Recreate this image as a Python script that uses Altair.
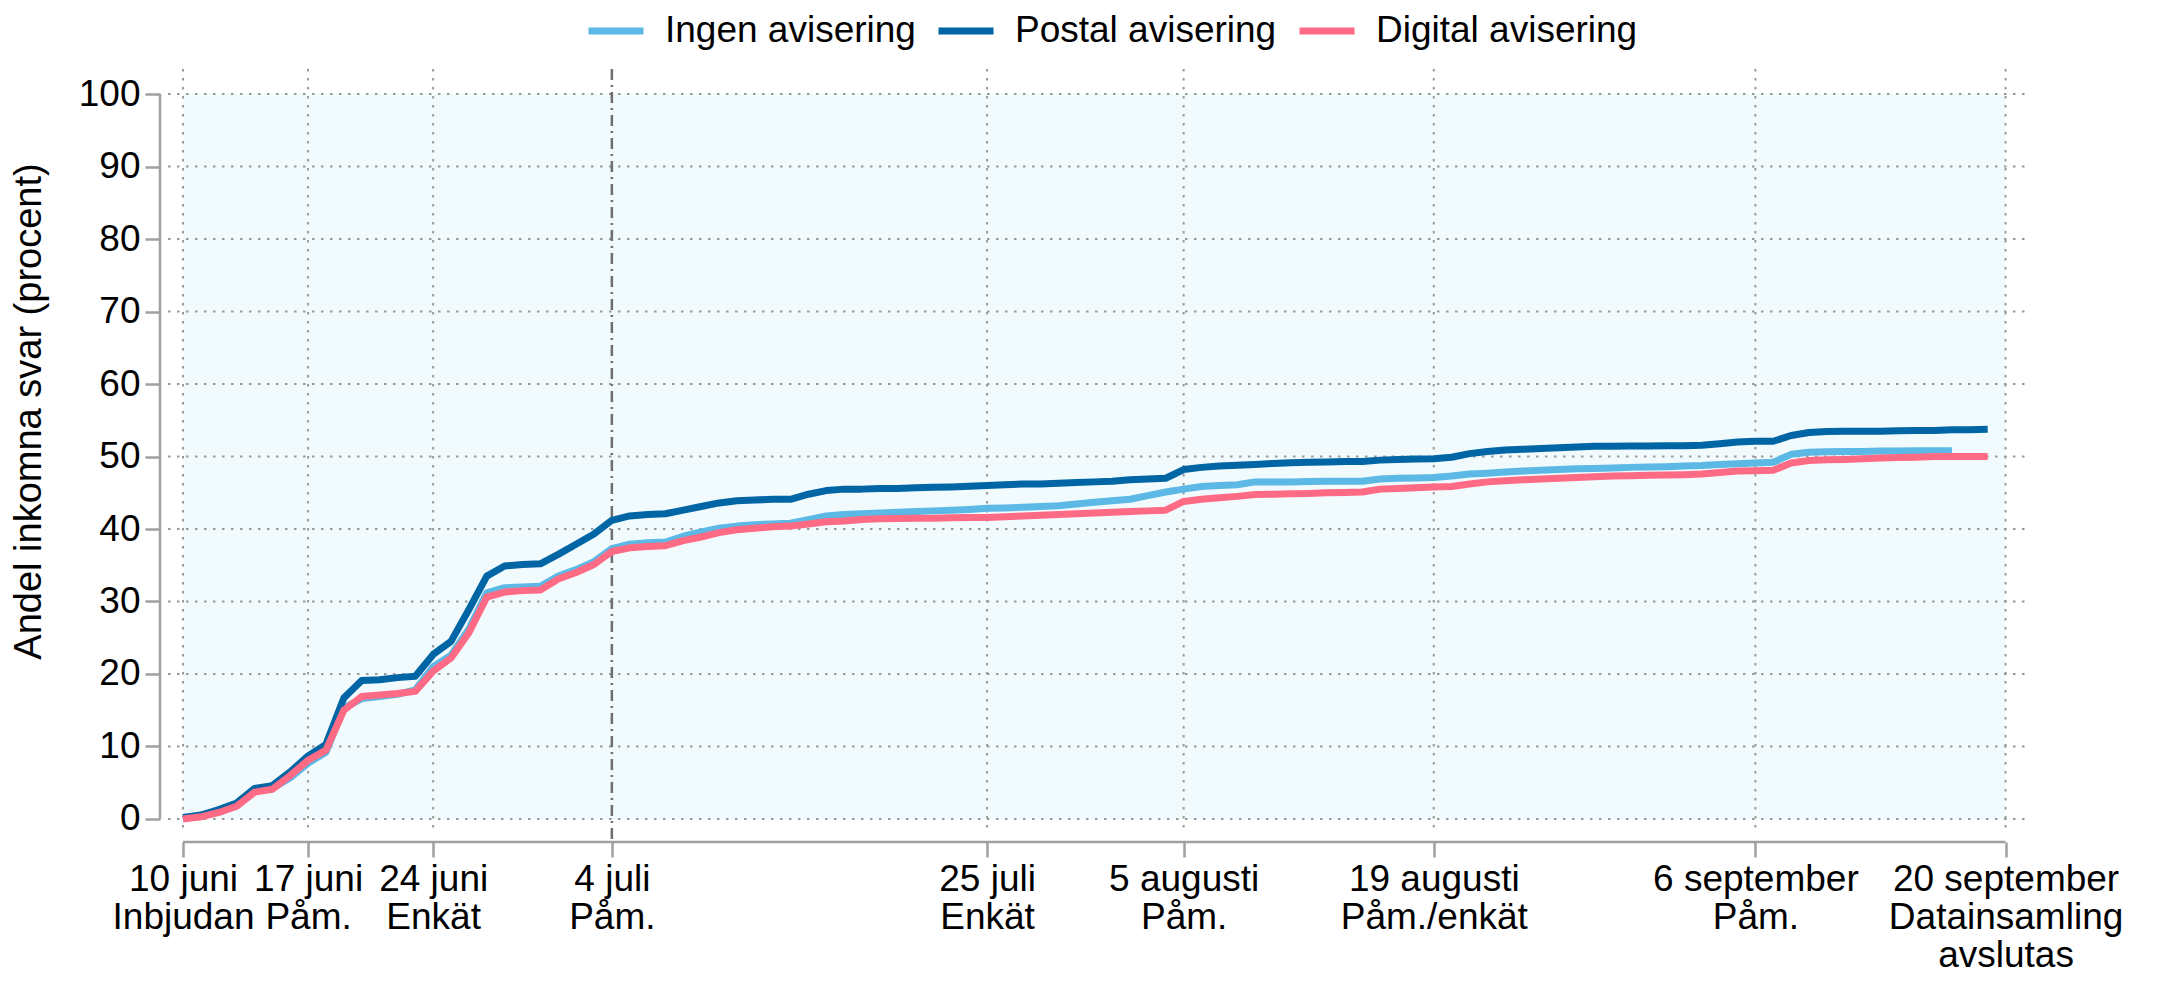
import json
import altair as alt
import pandas as pd

# ---------------- data ----------------
series_names = ["Ingen avisering", "Postal avisering", "Digital avisering"]
series_colors = ["#5CB8E5", "#0065A4", "#FF6A85"]

# cumulative share of responses (percent), one value per day from 10 juni
ingen = [0.1, 0.35, 0.95, 1.8, 3.8, 4.2, 5.7, 7.7, 9.2, 15.3,
         16.6, 16.9, 17.2, 17.8, 21.0, 22.6, 26.2, 31.2, 31.9, 32.0,
         32.1, 33.5, 34.4, 35.5, 37.3, 37.9, 38.1, 38.2, 39.0, 39.6,
         40.1, 40.4, 40.6, 40.7, 40.8, 41.3, 41.8, 42.0, 42.1, 42.2,
         42.3, 42.4, 42.5, 42.6, 42.7, 42.85, 42.9, 43.0, 43.1, 43.2,
         43.45, 43.7, 43.9, 44.1, 44.6, 45.1, 45.5, 45.85, 46.0, 46.1,
         46.5, 46.5, 46.5, 46.55, 46.6, 46.6, 46.6, 46.9, 47.0, 47.05,
         47.1, 47.3, 47.6, 47.7, 47.85, 48.0, 48.1, 48.2, 48.3, 48.35,
         48.4, 48.5, 48.55, 48.6, 48.7, 48.75, 48.9, 49.0, 49.1, 49.2,
         50.3, 50.6, 50.65, 50.7, 50.7, 50.75, 50.75, 50.8, 50.8, 50.8]

postal = [0.2, 0.55, 1.3, 2.2, 4.2, 4.6, 6.5, 8.7, 10.3, 16.7,
          19.1, 19.2, 19.5, 19.7, 22.7, 24.5, 28.9, 33.5, 34.9, 35.1,
          35.2, 36.5, 37.9, 39.3, 41.2, 41.8, 42.0, 42.1, 42.6, 43.1,
          43.6, 43.9, 44.0, 44.1, 44.1, 44.8, 45.3, 45.5, 45.5, 45.6,
          45.6, 45.7, 45.75, 45.8, 45.9, 46.0, 46.1, 46.2, 46.2, 46.3,
          46.4, 46.5, 46.6, 46.8, 46.9, 47.0, 48.2, 48.5, 48.7, 48.8,
          48.9, 49.05, 49.15, 49.2, 49.25, 49.3, 49.3, 49.5, 49.6, 49.65,
          49.7, 49.9, 50.4, 50.7, 50.9, 51.0, 51.1, 51.2, 51.3, 51.4,
          51.4, 51.45, 51.45, 51.5, 51.5, 51.55, 51.75, 52.0, 52.1, 52.1,
          52.9, 53.3, 53.45, 53.5, 53.5, 53.5, 53.55, 53.6, 53.6, 53.7,
          53.7, 53.75]

digital = [0.0, 0.3, 0.9, 1.75, 3.7, 4.1, 6.0, 8.1, 9.5, 15.0,
           16.9, 17.1, 17.3, 17.6, 20.4, 22.2, 25.7, 30.6, 31.3, 31.5,
           31.6, 33.1, 34.0, 35.1, 36.9, 37.4, 37.6, 37.7, 38.4, 38.9,
           39.5, 39.9, 40.1, 40.3, 40.4, 40.7, 41.0, 41.1, 41.3, 41.4,
           41.45, 41.5, 41.5, 41.55, 41.6, 41.6, 41.7, 41.8, 41.9, 42.0,
           42.1, 42.2, 42.3, 42.4, 42.5, 42.6, 43.8, 44.1, 44.3, 44.5,
           44.75, 44.8, 44.85, 44.9, 45.0, 45.05, 45.1, 45.5, 45.6, 45.7,
           45.8, 45.85, 46.2, 46.5, 46.65, 46.8, 46.9, 47.0, 47.1, 47.2,
           47.3, 47.35, 47.4, 47.45, 47.5, 47.6, 47.8, 48.0, 48.05, 48.1,
           49.1, 49.45, 49.55, 49.6, 49.7, 49.8, 49.85, 49.9, 50.0, 50.0,
           50.0, 50.0]

# x-axis ticks: days after 10 juni and their (multi-line) labels
tick_days = [0, 7, 14, 24, 45, 56, 70, 88, 102]
tick_labels = [
    ["10 juni", "Inbjudan"],
    ["17 juni", "Påm."],
    ["24 juni", "Enkät"],
    ["4 juli", "Påm."],
    ["25 juli", "Enkät"],
    ["5 augusti", "Påm."],
    ["19 augusti", "Påm./enkät"],
    ["6 september", "Påm."],
    ["20 september", "Datainsamling", "avslutas"],
]
reminder_day = 24          # 4 juli, drawn dashed
y_ticks = list(range(0, 101, 10))
field_start, field_end = 0, 102   # shaded data-collection period
y_title = "Andel inkomna svar (procent)"

# ---------------- tables ----------------
rows = []
for name, vals in zip(series_names, [ingen, postal, digital]):
    for d, v in enumerate(vals):
        rows.append({"day": d, "value": v, "serie": name})
df = pd.DataFrame(rows)

vgrid_df = pd.DataFrame({"day": [d for d in tick_days if d != reminder_day]})
hgrid_df = pd.DataFrame({"v": y_ticks})
dash_df = pd.DataFrame({"day": [reminder_day]})
bg_df = pd.DataFrame({"x0": [field_start], "x1": [field_end], "y0": [0], "y1": [100]})

# ---------------- styling ----------------
W, H = 1859, 765
FONT = "Liberation Sans"
FS = 37
GRAY = "#a0a0a0"

x_scale = alt.Scale(domain=[-0.84, 103.2], nice=False, zero=False)
y_scale = alt.Scale(domain=[-2.07, 103.45], nice=False, zero=False)

label_expr = ""
for d, lab in zip(tick_days, tick_labels):
    label_expr += f"datum.value == {d} ? {json.dumps(lab, ensure_ascii=False)} : "
label_expr += "''"

x_axis = alt.Axis(values=tick_days, labelExpr=label_expr, domain=False, grid=False,
                  ticks=True, tickSize=15, tickWidth=2.5, tickColor=GRAY, offset=8,
                  labelFontSize=FS, labelPadding=4, labelLineHeight=38, title=None,
                  labelOverlap=False, labelFlush=False, labelColor="black", labelFont=FONT,
                  labelLimit=0)
y_axis = alt.Axis(values=y_ticks, domain=False, grid=False, ticks=True, tickSize=15,
                  tickWidth=2.5, tickColor=GRAY, offset=8, labelFontSize=FS,
                  labelPadding=5, labelColor="black", labelFont=FONT, labelLimit=0,
                  title=y_title, titleFontSize=38, titleFont=FONT, titleY=342,
                  titleFontWeight="normal", titleColor="black", titlePadding=30)

bg = alt.Chart(bg_df).mark_rect(color="#F1FAFD").encode(
    x=alt.X("x0:Q", scale=x_scale, axis=x_axis),
    x2="x1:Q",
    y=alt.Y("y0:Q", scale=y_scale, axis=y_axis),
    y2="y1:Q",
)

hgrid = alt.Chart(hgrid_df).mark_rule(color="#999999", strokeWidth=2, strokeDash=[2.5, 6.5]).encode(
    y=alt.Y("v:Q", scale=y_scale, axis=y_axis),
    x=alt.value(0), x2=alt.value(W),
)
vgrid = alt.Chart(vgrid_df).mark_rule(color="#999999", strokeWidth=2, strokeDash=[2.5, 6.5]).encode(
    x=alt.X("day:Q", scale=x_scale, axis=x_axis),
    y=alt.value(0), y2=alt.value(H),
)
dash = alt.Chart(dash_df).mark_rule(color="#6e6e6e", strokeWidth=2.5, strokeDash=[11, 5, 2, 5]).encode(
    x=alt.X("day:Q", scale=x_scale, axis=x_axis),
    y=alt.value(0), y2=alt.value(H + 8),
)

# axis lines that only span the data range
yline = alt.Chart(bg_df).mark_rule(color=GRAY, strokeWidth=2.5).encode(
    x=alt.value(-8),
    y=alt.Y("y0:Q", scale=y_scale, axis=y_axis), y2="y1:Q",
)
xline = alt.Chart(bg_df).mark_rule(color=GRAY, strokeWidth=2.5).encode(
    y=alt.value(H + 8),
    x=alt.X("x0:Q", scale=x_scale, axis=x_axis), x2="x1:Q",
)

color = alt.Color("serie:N", scale=alt.Scale(domain=series_names, range=series_colors),
                  legend=alt.Legend(orient="none", legendX=417, legendY=-69, direction="horizontal",
                                    title=None, symbolType="stroke", symbolStrokeWidth=7,
                                    symbolSize=3025, labelFontSize=FS, labelFont=FONT,
                                    labelColor="black", labelOffset=18, columnPadding=8,
                                    padding=0, labelLimit=0))

lines = []
for name in series_names:
    lines.append(
        alt.Chart(df).transform_filter(alt.datum.serie == name)
        .mark_line(strokeWidth=7, strokeJoin="round")
        .encode(
            x=alt.X("day:Q", scale=x_scale, axis=x_axis),
            y=alt.Y("value:Q", scale=y_scale, axis=y_axis),
            color=color,
        )
    )

chart = alt.layer(bg, hgrid, vgrid, dash, yline, xline, *lines).properties(
    width=W, height=H,
    autosize=alt.AutoSizeParams(type="none"),
    padding={"left": 160, "top": 61, "right": 124, "bottom": 140},
).configure(font=FONT).configure_view(stroke=None)

chart.save("out.html", embed_options={"renderer": "svg", "actions": False})
